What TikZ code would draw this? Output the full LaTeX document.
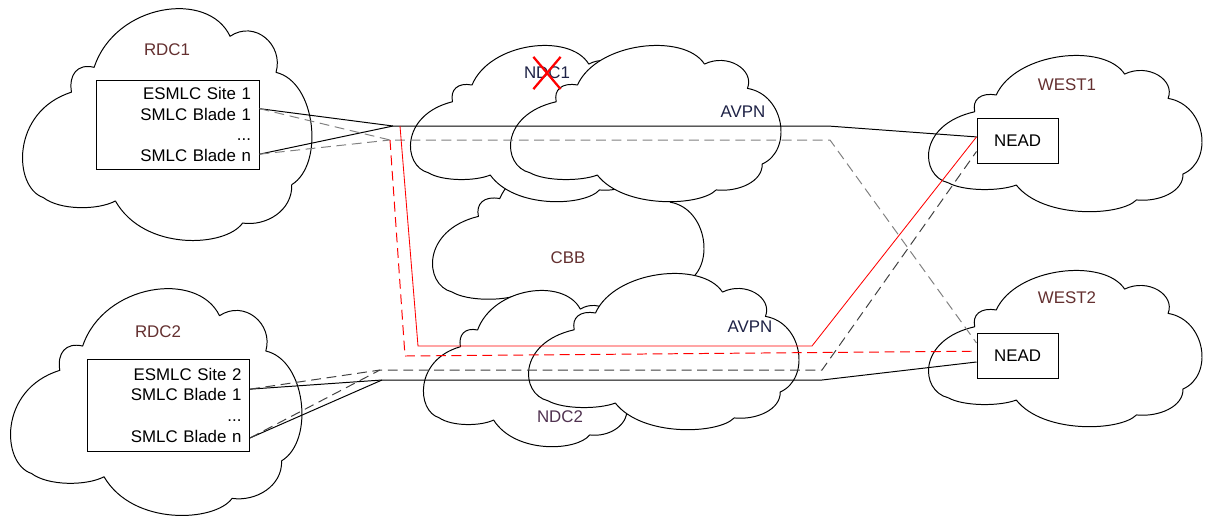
\documentclass[tikz,border=0pt]{standalone}
\usepackage{fontspec}
\setmainfont{Liberation Sans}
\usetikzlibrary{shapes.misc}
\definecolor{labelbrown}{RGB}{100,48,48}
\definecolor{labelnavy}{RGB}{30,34,70}
\definecolor{labelplum}{RGB}{80,50,80}
\newcommand{\netcloud}[4]{%
  \begin{scope}[shift={(#1,#2)},xscale=#3/100,yscale=#4/100]
    \draw[cloudline] (7.3,82.4)
      .. controls (-3,78) and (-4,45) .. (17,36.6)
      .. controls (16,29) and (19,24) .. (24.8,25.8)
      .. controls (32,-2) and (64,-8) .. (71.5,12.3)
      .. controls (80,5) and (90,16) .. (87.3,28)
      .. controls (101,32) and (104,68) .. (92.7,76.8)
      .. controls (93,88) and (84,95) .. (75.8,93.5)
      .. controls (70,104) and (42,106) .. (32.1,83.9)
      .. controls (26,88) and (13,88) .. (7.3,82.4) -- cycle;
  \end{scope}}
\begin{document}
\begin{tikzpicture}[x=0.025cm,y=-0.025cm,
    cloudline/.style={draw=black,fill=white,line width=0.7pt,line join=round},
    lbl/.style={text=labelbrown},
    blades/.style={draw,fill=white,line width=0.7pt,text width=3.65cm,align=right,inner xsep=0.2cm,inner ysep=0pt},
    nead/.style={draw,fill=white,line width=0.7pt,minimum width=2.025cm,minimum height=1.125cm},
    link/.style={line width=0.7pt},
    alt/.style={line width=0.7pt,dash pattern=on 7pt off 4pt},
    font=\fontsize{12}{14.7}\selectfont]
  \useasboundingbox (0,0) rectangle (1212,516);
  \netcloud{22}{8}{291}{230}
  \netcloud{10}{288}{293}{225}
  \netcloud{432}{156}{273}{165}
  \netcloud{410}{45}{250}{155}
  \netcloud{510}{45}{272}{155}
  \netcloud{423}{290}{220}{155}
  \netcloud{528}{273}{272}{155}
  \netcloud{928}{55}{275}{155}
  \netcloud{928}{270}{275}{155}
  \node[lbl] (rdc1) at (167,50) {RDC1};
  \node[lbl] (rdc2) at (158,332) {RDC2};
  \node[text=labelnavy] (ndc1) at (547,73) {NDC1};
  \node[text=labelnavy] (avpn1) at (743,112) {AVPN};
  \node[lbl] (cbb) at (568,258) {CBB};
  \node[text=labelnavy] (avpn2) at (750,327) {AVPN};
  \node[text=labelplum] (ndc2) at (560,417) {NDC2};
  \node[lbl] (west1) at (1067,85) {WEST1};
  \node[lbl] (west2) at (1067,298) {WEST2};
  \node[blades,minimum height=2.225cm] (rdc1box) at (178,124.5) {ESMLC Site 1\\SMLC Blade 1\\...\\SMLC Blade n};
  \node[blades,minimum height=2.3cm] (rdc2box) at (168.5,405) {ESMLC Site 2\\SMLC Blade 1\\...\\SMLC Blade n};
  \node[nead] (nead1) at (1017.5,140.5) {NEAD};
  \node[nead] (nead2) at (1017.5,355.5) {NEAD};
  \coordinate (j1s) at (393,126);
  \coordinate (j1d) at (390,140);
  \coordinate (t1s) at (828,126);
  \coordinate (t1d) at (830,140);
  \coordinate (j2s) at (382,380);
  \coordinate (j2d) at (380,370);
  \coordinate (t2s) at (822,380);
  \coordinate (t2d) at (822,370);
  \coordinate (r1top) at (400,126);
  \coordinate (r1bend) at (418,346);
  \coordinate (r1turn) at (812,346);
  \coordinate (d1bend) at (405,356);
  \draw[link] (rdc1box.11) -- (j1s) -- (t1s) -- (nead1.175);
  \draw[link] (rdc1box.-20) -- (j1s);
  \draw[alt,gray] (rdc1box.11) -- (j1d) -- (t1d) -- (nead2.163);
  \draw[alt,gray] (rdc1box.-20) -- (j1d);
  \draw[link] (rdc2box.11) -- (j2s) -- (t2s) -- (nead2.189);
  \draw[link] (rdc2box.-22) -- (j2s);
  \draw[alt,darkgray] (rdc2box.11) -- (j2d) -- (t2d) -- (nead1.195);
  \draw[alt,darkgray] (rdc2box.-22) -- (j2d);
  \draw[line width=0.6pt,red] (r1top) -- (r1bend) -- (r1turn) -- (nead1.175);
  \draw[alt,red] (j1d) -- (d1bend) -- (nead2.174);
  \node[cross out,draw=red,line width=1.6pt,minimum width=0.625cm,minimum height=0.75cm,inner sep=0pt] (ndcx) at (547,73) {};
\end{tikzpicture}
\end{document}
